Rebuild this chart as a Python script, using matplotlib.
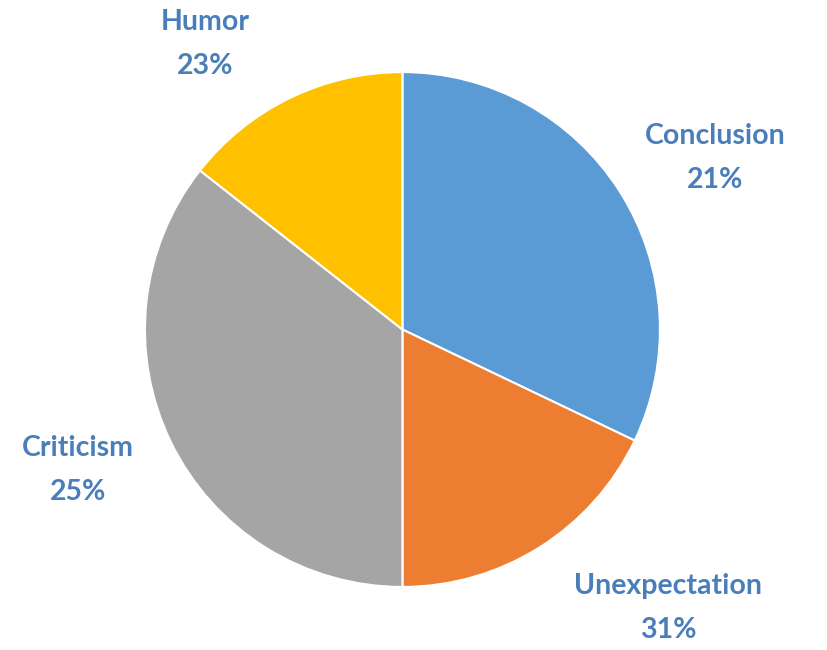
import matplotlib
matplotlib.use("Agg")
import matplotlib.pyplot as plt

# slice sizes as drawn (degrees -> percent)
categories = ['Conclusion', 'Unexpectation', 'Criticism', 'Humor']
slice_values = [32.1, 17.9, 35.6, 14.4]
label_pcts = ['21%', '31%', '25%', '23%']
colors = ['#5B9BD5', '#ED7D31', '#A5A5A5', '#FFC000']

# where each label sits (data coords, pie radius = 1)
label_pos = [(1.214, 0.666), (1.031, -1.082), (-1.260, -0.546), (-0.767, 1.109)]

fig = plt.figure(figsize=(8.27, 6.5), dpi=100)
ax = fig.add_axes([0, 0, 1, 1])

ax.pie(slice_values, colors=colors, startangle=90, counterclock=False,
       radius=1, center=(0, 0), frame=False,
       wedgeprops=dict(edgecolor='white', linewidth=1.5))

for name, pct, (x, y) in zip(categories, label_pcts, label_pos):
    ax.text(x, y, name + '\n' + pct, ha='center', va='center',
            fontsize=20.5, fontweight='bold', color='#4A7EBB',
            family='Lato', linespacing=1.85)

ax.set_xlim(-1.563, 1.649)
ax.set_ylim(-1.245, 1.280)
ax.set_aspect('auto')
ax.axis('off')

fig.savefig('out.png', dpi=100)
